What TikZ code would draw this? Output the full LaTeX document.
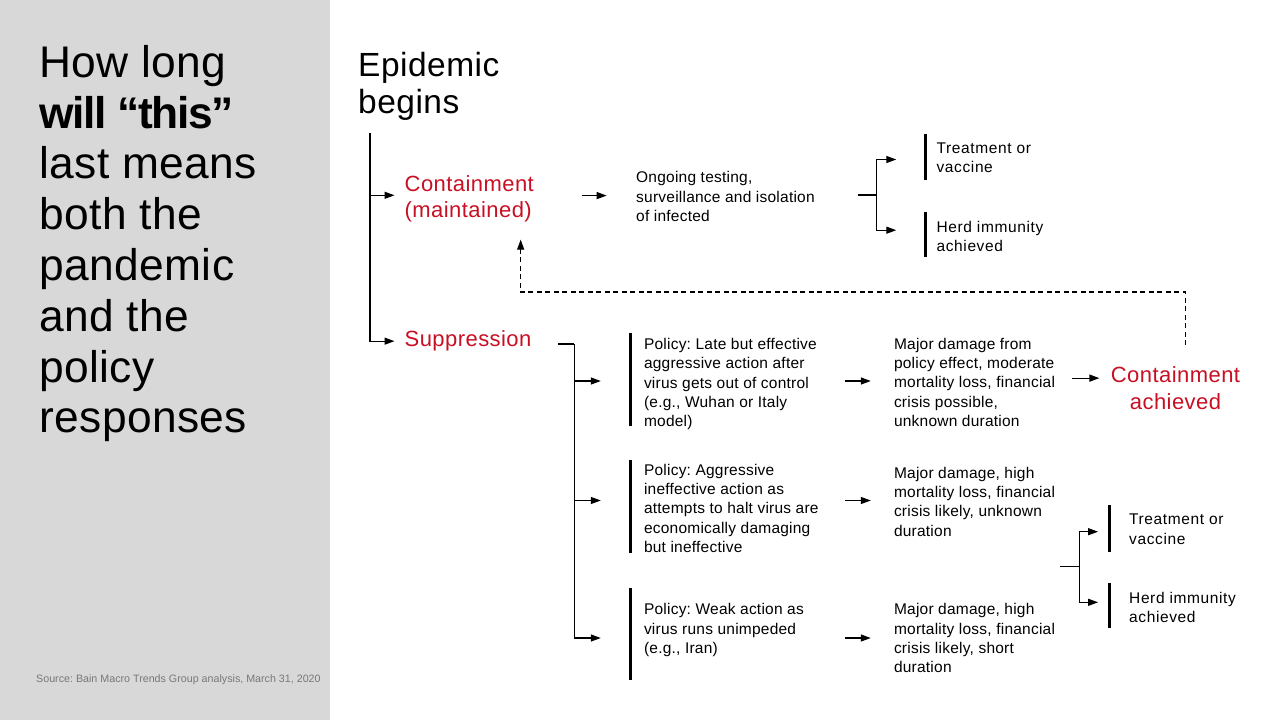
\documentclass[tikz,border=0pt]{standalone}
\usepackage{fontspec}
\setmainfont{Liberation Sans}
\frenchspacing
\usetikzlibrary{arrows.meta,calc}
\definecolor{bainred}{RGB}{200,16,36}
\definecolor{panel}{RGB}{216,216,216}
\definecolor{srcgray}{RGB}{120,120,120}
\tikzset{
  titletext/.style={font=\fontsize{44.3}{50.8}\selectfont\addfontfeatures{LetterSpace=1}, align=left, inner sep=0pt, anchor=north west},
  headtext/.style={font=\fontsize{33.5}{37.5}\selectfont\addfontfeatures{LetterSpace=1.5}, align=left, inner sep=0pt, anchor=north west},
  srctext/.style={font=\fontsize{10.7}{12}\selectfont, text=srcgray, inner sep=0pt, anchor=west},
  body/.style={font=\fontsize{15.5}{19.2}\selectfont\addfontfeatures{LetterSpace=1.5}, align=left, inner sep=0pt, anchor=north west},
  endtext/.style={body, font=\fontsize{15.5}{19.2}\selectfont\addfontfeatures{LetterSpace=4}},
  redt/.style={font=\fontsize{22}{26.7}\selectfont\addfontfeatures{LetterSpace=2}, text=bainred, align=left, inner sep=0pt, anchor=north west},
  ln/.style={line width=1.2pt, draw=black},
  arr/.style={ln, -{Triangle[length=10pt,width=7pt]}},
  dsh/.style={line width=1.1pt, draw=black, dash pattern=on 5pt off 3.5pt, -{Triangle[length=10pt,width=7pt]}},
  vbar/.style={fill=black, draw=none, inner sep=0pt, minimum width=3pt},
}
\begin{document}
\begin{tikzpicture}[x=1pt,y=-1pt]
\useasboundingbox (0,0) rectangle (1280,720);
\fill[white] (0,0) rectangle (1280,720);
\fill[panel] (0,0) rectangle (330,720);

% left panel
\node[titletext] (title) at (39,45) {How long\\\textbf{\addfontfeatures{LetterSpace=-3}will “this”}\\last means\\both the\\pandemic\\and the\\policy\\responses};
\node[srctext] (src) at (36,680) {Source: Bain Macro Trends Group analysis, March 31, 2020};

% heading
\node[headtext] (epi) at (358,51.7) {Epidemic\\begins};

% first level
\node[redt] (cont) at (404.5,175) {Containment\\(maintained)};
\node[redt] (supp) at (404.5,330.7) {Suppression};
\coordinate (tt) at (370,133.3);
\coordinate (ca) at ([xshift=-10pt,yshift=3.5pt]cont.west);
\draw[arr] (tt) |- ([xshift=-10pt]supp.west);
\draw[arr] (tt |- ca) -- (ca);

% containment branch
\node[body] (ong) at (636,171.5) {Ongoing testing,\\surveillance and isolation\\of infected};
\draw[arr] ([xshift=-54.3pt,yshift=1pt]ong.west) -- ([xshift=-29.3pt,yshift=1pt]ong.west);

\coordinate (b1s) at (857.7,195);
\coordinate (b1) at (876.7,195);
\node[vbar, minimum height=46pt] (tb1) at (925,156.5) {};
\node[vbar, minimum height=45pt] (hb1) at (925,234.2) {};
\node[endtext] (tv1) at (936.4,142.3) {Treatment or\\vaccine};
\node[endtext] (hi1) at (936.4,220.7) {Herd immunity\\achieved};
\draw[ln] (b1s) -- (b1);
\draw[arr] (b1) |- ([xshift=-27pt,yshift=-3pt]tb1.west);
\draw[arr] (b1) |- ([xshift=-27pt,yshift=4pt]hb1.west);

% suppression branch
\coordinate (s0) at (558.3,344);
\coordinate (s1) at (574.3,344);
\node[vbar, minimum height=93pt] (pb1) at (630,379.5) {};
\node[vbar, minimum height=93pt] (pb2) at (630,506.5) {};
\node[vbar, minimum height=92pt] (pb3) at (630,633.5) {};
\draw[ln] (s0) -- (s1);
\draw[arr] (s1) |- ([xshift=-27.5pt,yshift=-1.5pt]pb1.west);
\draw[arr] (s1) |- ([xshift=-27.5pt,yshift=6pt]pb2.west);
\draw[arr] (s1) |- ([xshift=-27.5pt,yshift=-4.5pt]pb3.west);

\node[body] (p1) at (643.8,338.3) {Policy: Late but effective\\aggressive action after\\virus gets out of control\\(e.g., Wuhan or Italy\\model)};
\node[body] (p2) at (643.8,464) {Policy: Aggressive\\ineffective action as\\attempts to halt virus are\\economically damaging\\but ineffective};
\node[body] (p3) at (643.8,603.5) {Policy: Weak action as\\virus runs unimpeded\\(e.g., Iran)};

\node[body] (o1) at (893.8,338) {Major damage from\\policy effect, moderate\\mortality loss, financial\\crisis possible,\\unknown duration};
\node[body] (o2) at (893.8,467) {Major damage, high\\mortality loss, financial\\crisis likely, unknown\\duration};
\node[body] (o3) at (893.8,603.5) {Major damage, high\\mortality loss, financial\\crisis likely, short\\duration};

\coordinate (q1s) at ([xshift=215pt,yshift=-1.5pt]pb1.center);
\coordinate (q2s) at ([xshift=215pt,yshift=6pt]pb2.center);
\coordinate (q3s) at ([xshift=215pt,yshift=-4.5pt]pb3.center);
\coordinate (q1e) at ([xshift=-23pt]o1.west);
\coordinate (q2e) at ([xshift=-23pt]o2.west);
\coordinate (q3e) at ([xshift=-23pt]o3.west);
\draw[arr] (q1s) -- (q1s -| q1e);
\draw[arr] (q2s) -- (q2s -| q2e);
\draw[arr] (q3s) -- (q3s -| q3e);

% containment achieved
\node[redt, align=center, anchor=north] (cach) at (1175.5,366.5) {Containment\\achieved};
\draw[arr] ([xshift=-39pt,yshift=10pt]cach.west) -- ([xshift=-11.3pt,yshift=10pt]cach.west);
\coordinate (dstart) at ([xshift=10.2pt,yshift=21.5pt]cach.north);
\draw[dsh] (dstart) -- ++(0,-53) -| ([xshift=51.4pt,yshift=-17pt]cont.south);

% lower right bracket
\coordinate (r0) at (1060,566.7);
\coordinate (r1) at (1079.3,566.7);
\node[vbar, minimum height=46.7pt] (tb2) at (1109,528.3) {};
\node[vbar, minimum height=45pt] (hb2) at (1109,605.8) {};
\node[endtext] (tv2) at (1129,514) {Treatment or\\vaccine};
\node[endtext] (hi2) at (1129,592) {Herd immunity\\achieved};
\draw[ln] (r0) -- (r1);
\draw[arr] (r1) |- ([xshift=-9.2pt,yshift=-3.4pt]tb2.west);
\draw[arr] (r1) |- ([xshift=-9.2pt,yshift=3.5pt]hb2.west);
\end{tikzpicture}
\end{document}
